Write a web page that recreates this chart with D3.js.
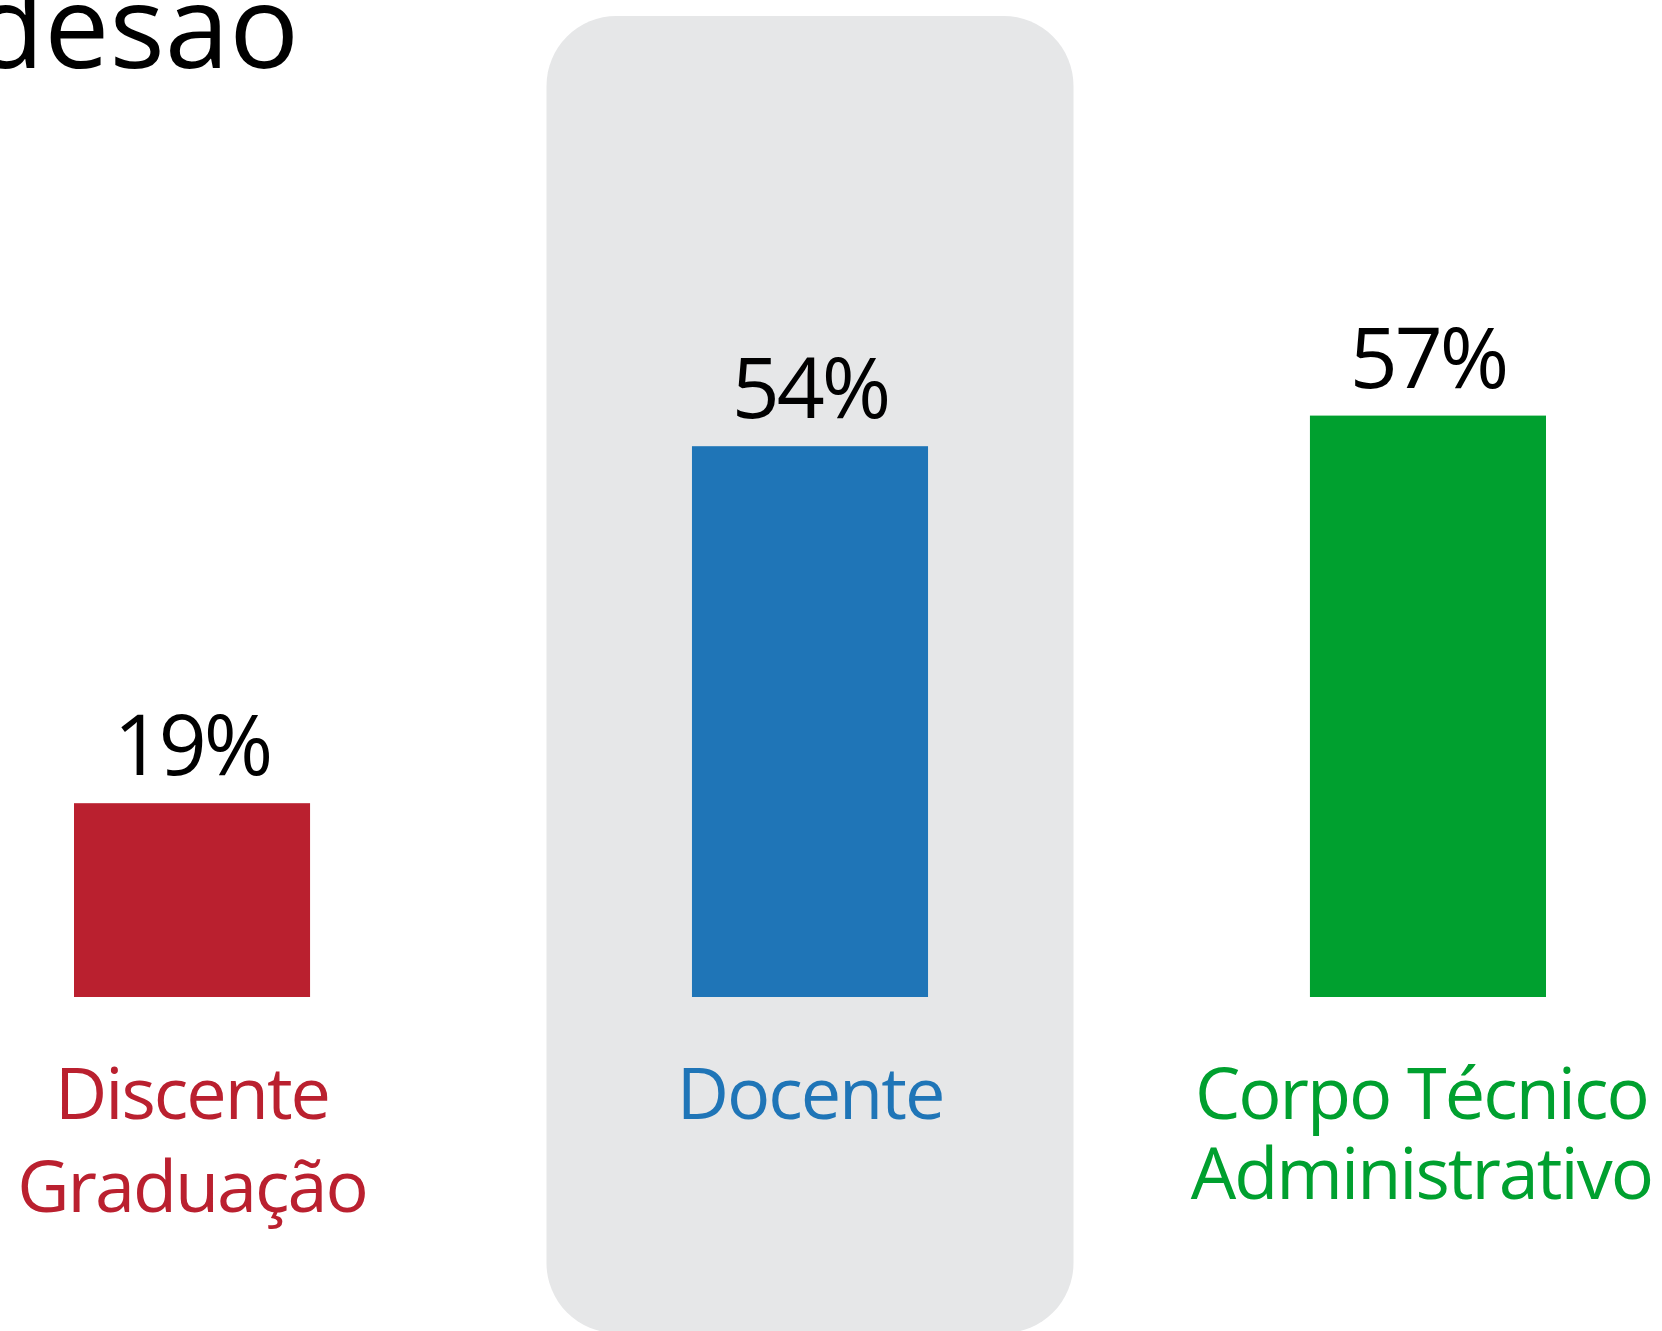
<!DOCTYPE html>
<html>
<head>
<meta charset="utf-8">
<script src="https://cdn.jsdelivr.net/npm/d3@7"></script>
<style>
  html, body { margin: 0; padding: 0; background: #ffffff; }
  svg { display: block; }
  text { font-family: "Open Sans", "Noto Sans", sans-serif; }
</style>
</head>
<body>
<script>
// Adhesion rate by university segment
const categories = ["Discente Graduação", "Docente", "Corpo Técnico Administrativo"];
const labelLines = [["Discente", "Graduação"], ["Docente"], ["Corpo Técnico", "Administrativo"]];
const values = [19, 54, 57];
const colors = ["#ba202f", "#1f75b7", "#00a02f"];
const highlighted = "Docente";
const title = "Adesão";

const W = 1662, H = 1331;
const baseY = 997;

const svg = d3.select("body").append("svg")
  .attr("width", W).attr("height", H);

const x = d3.scaleBand()
  .domain(categories)
  .range([74, 1546])
  .paddingInner(0.618)
  .paddingOuter(0);

const y = d3.scaleLinear()
  .domain([0, 100])
  .range([baseY, baseY - 1020]);

// Rounded highlight panel behind the selected category
const panelW = 527;
svg.append("rect")
  .attr("x", x(highlighted) + x.bandwidth() / 2 - panelW / 2)
  .attr("y", 16)
  .attr("width", panelW)
  .attr("height", 1317)
  .attr("rx", 70)
  .attr("fill", "#e6e7e8");

// Title, partly running off the top-left edge
svg.append("text")
  .attr("x", 299)
  .attr("y", 68)
  .attr("text-anchor", "end")
  .attr("font-size", 116)
  .attr("fill", "#000")
  .text(title);

const data = categories.map((c, i) => ({ cat: c, value: values[i], color: colors[i], lines: labelLines[i] }));

// Bars
svg.selectAll("rect.bar")
  .data(data)
  .join("rect")
  .attr("class", "bar")
  .attr("x", d => x(d.cat))
  .attr("y", d => y(d.value))
  .attr("width", x.bandwidth())
  .attr("height", d => y(0) - y(d.value))
  .attr("fill", d => d.color);

// Value labels above bars
svg.selectAll("text.value")
  .data(data)
  .join("text")
  .attr("class", "value")
  .attr("x", d => x(d.cat) + x.bandwidth() / 2)
  .attr("y", d => y(d.value) - 28)
  .attr("text-anchor", "middle")
  .attr("font-size", 84)
  .attr("letter-spacing", -3)
  .attr("fill", "#000")
  .text(d => d.value + "%");

// Category labels below bars, kept inside the right edge
const lineGap = { "Discente Graduação": 93, "Docente": 0, "Corpo Técnico Administrativo": 80 };
data.forEach(d => {
  const g = svg.append("g");
  const t = g.append("text")
    .attr("text-anchor", "middle")
    .attr("font-size", 72)
    .attr("letter-spacing", -2)
    .attr("fill", d.color);
  d.lines.forEach((line, j) => {
    t.append("tspan")
      .attr("x", 0)
      .attr("y", baseY + 122 + j * lineGap[d.cat])
      .text(line);
  });
  const bb = t.node().getBBox();
  let cx = x(d.cat) + x.bandwidth() / 2;
  const maxCx = W - 10 - bb.width / 2;
  if (cx > maxCx) cx = maxCx;
  g.attr("transform", `translate(${cx},0)`);
});
</script>
</body>
</html>
